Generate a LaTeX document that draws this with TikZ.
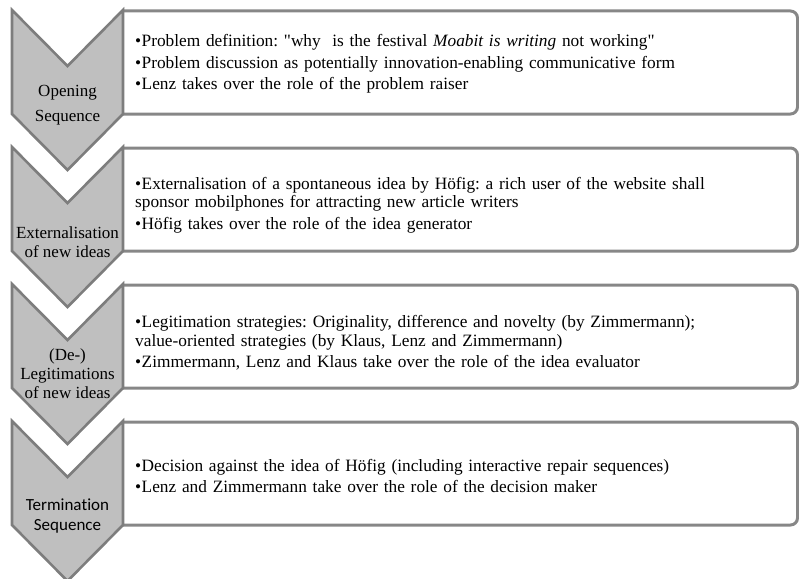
\documentclass[tikz,border=0pt]{standalone}
\usepackage{fontspec}
\setmainfont{Liberation Serif}
\newfontfamily\plainser{Liberation Serif}
\newfontfamily\calib[Ligatures=NoCommon]{Carlito}
\definecolor{chevfill}{RGB}{191,191,191}
\definecolor{chevline}{RGB}{125,125,125}
\definecolor{boxline}{RGB}{135,135,135}
\newcommand{\bul}[1]{\noindent\hangindent=6.5pt\hangafter=1\makebox[6.5pt][l]{•}#1\par}
\newcommand{\sq}{{\plainser"}}
\tikzset{
  chev/.style={fill=chevfill,draw=chevline,line width=2.6pt,line join=miter},
  boxl/.style={draw=boxline,line width=3pt,rounded corners=7pt},
  btext/.style={anchor=west,inner sep=0pt,text width=662pt,align=left,
    font=\fontsize{17.3}{18.5}\selectfont\frenchspacing},
  clabel/.style={inner sep=0pt,align=center,font=\fontsize{17}{19.5}\selectfont}
}
\begin{document}
\begin{tikzpicture}[x=1pt,y=-1pt]
\useasboundingbox (0,0) rectangle (799,578);
\foreach \T in {10,147,284,421}{
  \draw[boxl] (123,\T+1) -- (797.5,\T+1) -- (797.5,\T+104) -- (123,\T+104);
  \draw[chev] (12,\T) -- (67.5,\T+56) -- (123,\T) -- (123,\T+104) -- (67.5,\T+160) -- (12,\T+104) -- cycle;
}
\node[clabel,font=\fontsize{17}{24.5}\selectfont] (c1) at (67.5,105) {Opening\\Sequence};
\node[clabel] (c2) at (67.5,242) {Externalisation\\of new ideas};
\node[clabel,font=\fontsize{17}{19}\selectfont] (c3) at (67.5,374) {(De-)\\Legitimations\\of new ideas};
\node[clabel,font=\calib\fontsize{17}{20}\selectfont] (c4) at (67.5,516) {Termina\kern0pt tion\\Sequence};

\node[btext] (t1) at (135,64) {\setlength{\parskip}{3pt}%
\bul{Problem definition: \sq why\ \ is the festival \textit{Moabit is writing} not working\sq}
\bul{Problem discussion as potentially innovation-enabling communicative form}
\bul{Lenz takes over the role of the problem raiser}};
\node[btext] (t2) at (135,205) {\setlength{\parskip}{3pt}%
\bul{Externalisation of a spontaneous idea by Höfig: a rich user of the website shall\\sponsor mobilphones for attracting new article writers}
\bul{Höfig takes over the role of the idea generator}};
\node[btext] (t3) at (135,343) {\setlength{\parskip}{3pt}%
\bul{Legitimation strategies: Originality, difference and novelty (by Zimmermann);\\value-oriented strategies (by Klaus, Lenz and Zimmermann)}
\bul{Zimmermann, Lenz and Klaus take over the role of the idea evaluator}};
\node[btext] (t4) at (135,476) {\setlength{\parskip}{3pt}%
\bul{Decision against the idea of Höfig (including interactive repair sequences)}
\bul{Lenz and Zimmermann take over the role of the decision maker}};
\end{tikzpicture}
\end{document}
